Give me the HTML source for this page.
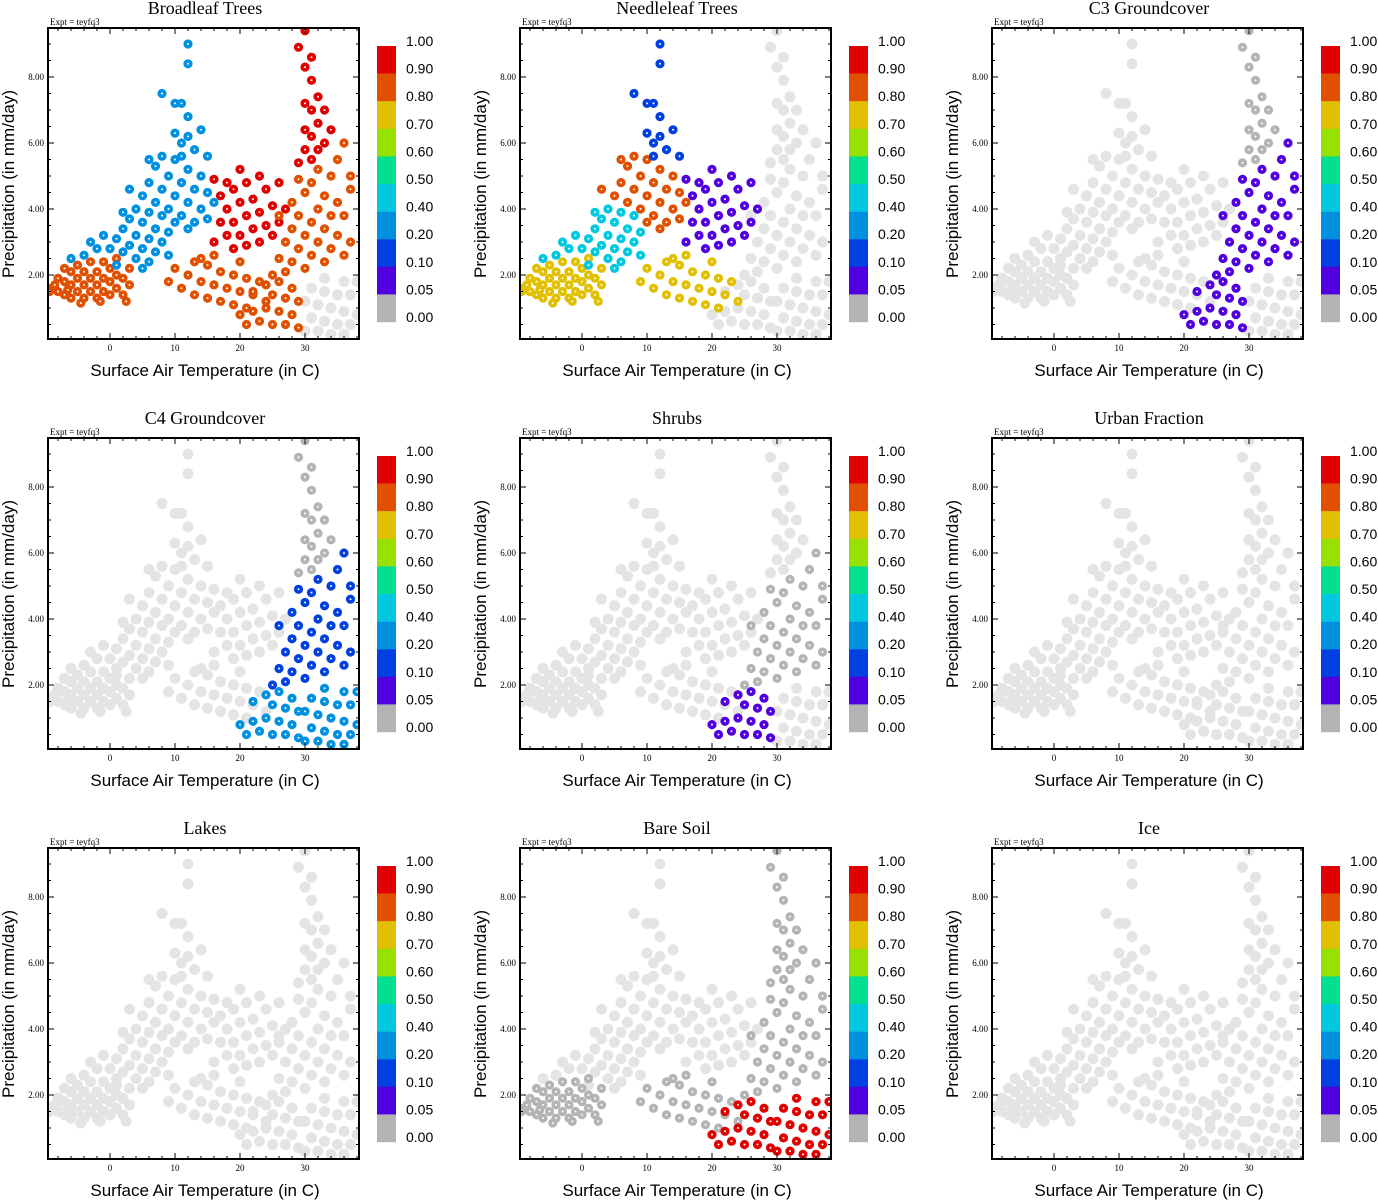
<!DOCTYPE html>
<html><head><meta charset="utf-8"><style>
body{margin:0;background:#fff}
svg{display:block}
</style></head><body>
<svg id="fig" width="1378" height="1200" xmlns="http://www.w3.org/2000/svg"></svg>
<script>
// Cluster point lists: [T, P, T, P, ...]
const clA=[-9,1.6,-8,1.5,-8,1.9,-7,1.4,-7,1.8,-7,2.2,-6,1.3,-6,1.7,-6,2.1,-5,1.5,-5,1.9,-5,2.3,-4,1.3,-4,1.7,-4,2.1,-3,1.5,-3,1.9,-3,2.4,-2,1.3,-2,1.7,-2,2.1,-1,1.5,-1,1.9,-1,2.4,0,1.4,0,1.8,0,2.2,1,1.6,1,2.0,1,2.5,2,1.4,2,1.9,3,1.7,3,2.2,-8.5,1.7,-6.5,1.55,-9.3,1.5,-4.5,1.15,-1.5,1.2,2.5,1.2];
const clB=[0,2.8,1,3.1,2,2.7,2,3.4,3,2.9,3,3.7,4,2.5,4,3.2,5,2.8,5,3.6,6,2.4,6,3.1,6,3.9,7,2.7,7,3.4,8,3.0,8,3.8,9,2.6,9,3.3,-2,2.8,-4,2.6,-1,3.2,4,4.0,1,2.3,5,2.2,-6,2.5,-3,3.0,2,3.9];
const clC=[5,4.4,6,4.8,7,4.2,7,5.3,8,4.6,9,4.0,9,5.0,10,4.4,10,5.5,11,3.8,11,4.8,12,4.2,12,5.2,13,3.6,13,4.6,14,4.0,14,5.0,15,3.7,15,4.5,16,4.2,10,3.6,12,3.4,8,5.6,3,4.6,6,5.5];
const clD=[8,7.5,10,6.3,10,7.2,11,6.0,11,7.2,12,8.4,12,9.0,11,5.6,12,6.8,13,5.8,14,6.4,15,5.6,12,6.2];
const clE=[16,3.0,17,3.6,17,4.4,18,3.2,18,4.0,19,2.8,19,3.6,19,4.6,20,3.2,20,4.2,21,2.9,21,3.8,21,4.8,22,3.4,22,4.3,23,3.0,23,3.9,24,3.5,24,4.6,25,3.2,25,4.1,26,3.6,26,4.8,18,4.8,23,5.0,27,4.0,16,4.9,20,5.2];
const clF=[10,2.2,11,1.6,12,2.0,13,1.4,13,2.4,14,1.8,15,1.3,15,2.3,16,1.7,17,2.1,17,1.2,18,1.6,19,2.0,19,1.1,20,1.5,21,1.9,21,1.0,22,1.4,23,1.8,24,1.2,14,2.5,9,1.8,16,2.6,20,2.4];
const clG=[25,2.0,26,2.5,27,2.1,27,3.0,28,2.4,28,3.4,28,4.2,29,2.8,29,3.8,30,2.2,30,3.2,30,4.5,31,2.6,31,3.6,31,4.8,32,3.0,32,4.0,33,2.4,33,3.4,33,4.4,34,2.8,34,3.8,34,5.0,35,3.2,35,4.2,36,2.6,36,3.8,37,3.0,37,4.6,26,3.8,29,4.9,32,5.2,35,5.5,36,6.0,37,5.0];
const clH=[29,5.4,30,5.8,30,6.4,31,5.5,31,6.2,31,7.0,32,6.6,32,7.4,31,7.9,30,8.3,29,8.9,31,8.6,33,6.0,33,7.0,30,7.2,32,5.8,34,6.4,30,9.4];
const clI=[30,0.3,30,1.2,31,0.7,31,1.6,32,0.3,32,1.1,33,0.6,33,1.5,34,0.2,34,1.0,35,0.5,35,1.4,36,0.2,36,0.9,37,0.5,37,1.4,38,0.8,38,1.8,33,1.9,36,1.8];
const clJ=[20,0.8,21,0.5,22,0.9,23,0.6,24,1.0,25,0.5,25,1.4,26,0.9,27,0.5,27,1.3,28,0.8,28,1.6,29,0.4,29,1.2,24,1.7,22,1.5,26,1.8];
const clusters=[clA,clB,clC,clD,clE,clF,clG,clH,clI,clJ];
// Per-panel fraction per cluster (null = masked)
const titles=["Broadleaf Trees","Needleleaf Trees","C3 Groundcover","C4 Groundcover","Shrubs","Urban Fraction","Lakes","Bare Soil","Ice"];
const fBroadleaf=[0.8,0.2,0.2,0.2,0.9,0.8,0.8,0.9,null,0.8];
const fNeedleleaf=[0.7,0.4,0.8,0.1,0.05,0.7,null,null,null,null];
const fC3=[null,null,null,null,null,null,0.05,0.0,null,0.05];
const fC4=[null,null,null,null,null,null,0.1,0.0,0.2,0.2];
const fShrubs=[null,null,null,null,null,null,0.0,null,null,0.05];
const fUrban=[null,null,null,null,null,null,null,null,null,null];
const fLakes=[null,null,null,null,null,null,null,null,null,null];
const fBare=[0.0,null,null,null,null,0.0,0.0,0.0,0.9,0.9];
const fIce=[null,null,null,null,null,null,null,null,null,null];
const fractions=[fBroadleaf,fNeedleleaf,fC3,fC4,fShrubs,fUrban,fLakes,fBare,fIce];
const levels=["1.00","0.90","0.80","0.70","0.60","0.50","0.40","0.20","0.10","0.05","0.00"];
const xTicks=[0,10,20,30];
const yTicks=[2,4,6,8];

const colors=["#b4b4b4","#5000e0","#0040e0","#0090e0","#00c8e0","#00e090","#98e000","#e0c000","#e05000","#e00000"];
const thr=[0.05,0.1,0.2,0.4,0.5,0.6,0.7,0.8,0.9];
function colIdx(v){let i=0;for(const t of thr){if(v>=t)i++;}return i;}
const NS="http://www.w3.org/2000/svg";
const svg=document.getElementById('fig');
function mk(tag,attrs,parent){const e=document.createElementNS(NS,tag);for(const k in attrs)e.setAttribute(k,attrs[k]);(parent||svg).appendChild(e);return e;}
const L=48,R=359,T=28,B=339;
function X(t){return 110+6.5*t;}
function Y(p){return 341-33*p;}

for(let k=0;k<9;k++){
  const ox=(k%3)*472, oy=Math.floor(k/3)*410;
  const g=mk('g',{transform:`translate(${ox},${oy})`});
  
  
  const ti=mk('text',{x:205,y:14,'text-anchor':'middle','font-family':'Liberation Serif, serif','font-size':18},g);ti.textContent=titles[k];
  
  const ex=mk('text',{x:50,y:25,'font-family':'Liberation Serif, serif','font-size':9},g);ex.textContent="Expt = teyfq3";
  
  const clip=mk('clipPath',{id:'c'+k},g);mk('rect',{x:L,y:T,width:R-L,height:B-T},clip);
  const pts=mk('g',{'clip-path':`url(#c${k})`},g);
  
  const fr=fractions[k];
  for(const pass of [0,1,2]){
    clusters.forEach((cl,ci)=>{
      const v=fr[ci];
      const kind=v===null?0:(colIdx(v)===0?1:2);
      if(kind!==pass)return;
      for(let i=0;i<cl.length;i+=2){
        const cx=X(cl[i]),cy=Y(cl[i+1]);
        if(kind===0){
          const c=mk('circle',{cx:cx,cy:cy,r:5.5,fill:'#e4e4e4'},pts);
          
        }else{
          const c=mk('circle',{cx:cx,cy:cy,r:4.6,fill:colors[colIdx(v)]},pts);
          
          mk('circle',{cx:cx,cy:cy,r:1,fill:'#fff'},pts);
        }
      }
    });
  }
  const fm=mk('rect',{x:L,y:T,width:R-L,height:B-T,fill:'none',stroke:'#000','stroke-width':2},g);
  
  for(let t=-8;t<=38;t+=2){const x=X(t);const big=t%10===0;
    mk('line',{x1:x,x2:x,y1:B,y2:B-(big?6:3),stroke:'#000'},g);mk('line',{x1:x,x2:x,y1:T,y2:T+(big?6:3),stroke:'#000'},g);}
  for(let p=0.5;p<=9.5;p+=0.5){const y=Y(p);const big=Math.abs(p%2)<1e-6;
    mk('line',{x1:L,x2:L+(big?6:3),y1:y,y2:y,stroke:'#000'},g);mk('line',{x1:R,x2:R-(big?6:3),y1:y,y2:y,stroke:'#000'},g);}
  xTicks.forEach(t=>{const e=mk('text',{x:X(t),y:B+12,'text-anchor':'middle','font-family':'Liberation Serif, serif','font-size':9},g);e.textContent=t;
    });
  yTicks.forEach(p=>{const e=mk('text',{x:L-4,y:Y(p)+3,'text-anchor':'end','font-family':'Liberation Serif, serif','font-size':9},g);e.textContent=p.toFixed(2);
    });
  const xl=mk('text',{x:205,y:376,'text-anchor':'middle','font-family':'Liberation Sans, sans-serif','font-size':17},g);xl.textContent="Surface Air Temperature (in C)";
  
  const yl=mk('text',{x:0,y:0,transform:'translate(14,184) rotate(-90)','text-anchor':'middle','font-family':'Liberation Sans, sans-serif','font-size':17},g);yl.textContent="Precipitation (in mm/day)";
  
  const cb=mk('g',{},g);
  for(let i=0;i<10;i++){mk('rect',{x:377,y:46+27.6*i,width:19,height:27.8,fill:colors[9-i]},cb);}
  levels.forEach((s,i)=>{const e=mk('text',{x:406,y:41+27.6*i+5,'font-family':'Liberation Sans, sans-serif','font-size':14},cb);e.textContent=s;
    });
}
</script>
</body></html>
